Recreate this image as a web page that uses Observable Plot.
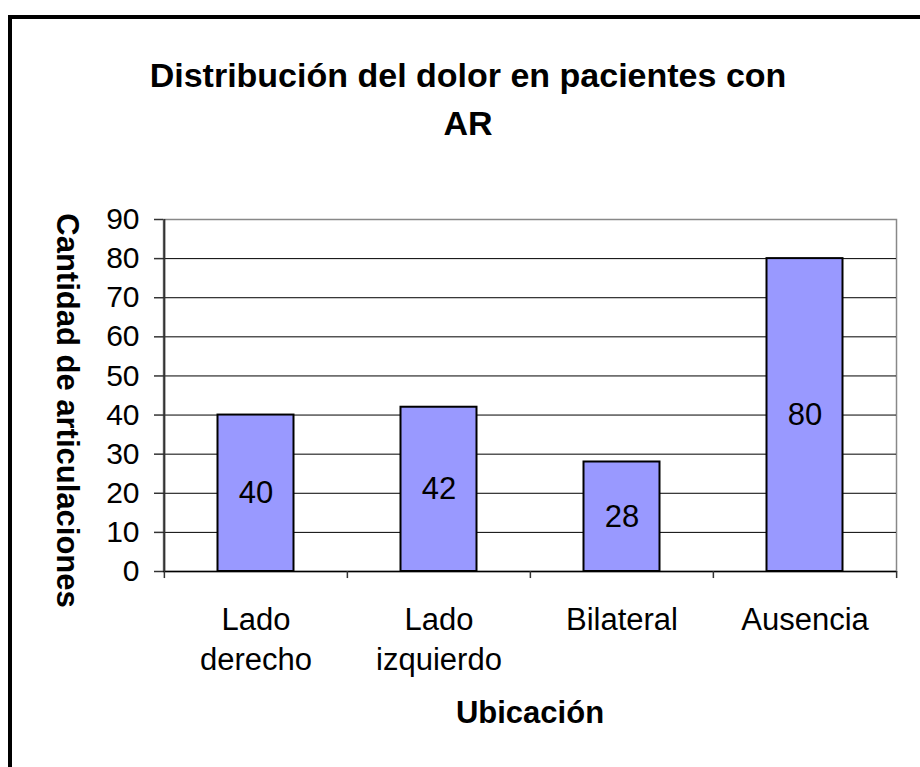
<!DOCTYPE html>
<html>
<head>
<meta charset="utf-8">
<script src="https://cdn.jsdelivr.net/npm/d3@7"></script>
<script src="https://cdn.jsdelivr.net/npm/@observablehq/plot@0.6"></script>
<style>
  html, body { margin: 0; padding: 0; background: #fff; }
  #wrap { position: relative; width: 920px; height: 767px; overflow: hidden; background: #fff; }
  #border { position: absolute; left: 8px; top: 15px; width: 1000px; height: 900px;
            border-left: 4px solid #000; border-top: 4px solid #000; box-sizing: border-box; }
  #chart { position: absolute; left: 0; top: 0; }
</style>
</head>
<body>
<div id="wrap"><div id="border"></div><div id="chart"></div></div>
<script>
const categories = ["Lado derecho", "Lado izquierdo", "Bilateral", "Ausencia"];
const categoryLabels = ["Lado\nderecho", "Lado\nizquierdo", "Bilateral", "Ausencia"];
const values = [40, 42, 28, 80];
const yTicks = [0, 10, 20, 30, 40, 50, 60, 70, 80, 90];
const titleText = "Distribución del dolor en pacientes con\nAR";
const yLabel = "Cantidad de articulaciones";
const xLabel = "Ubicación";

const data = categories.map((c, i) => ({cat: c, label: categoryLabels[i], value: values[i]}));

const W = 920, H = 767, mL = 163, mR = 24, mT = 219, mB = 196;
const bw = (W - mL - mR) / categories.length;
const font = "'Liberation Sans', Arial, sans-serif";

const plot = Plot.plot({
  width: W, height: H,
  marginLeft: mL, marginRight: mR, marginTop: mT, marginBottom: mB,
  style: {fontFamily: font, fontSize: "30px", color: "#000", background: "transparent", overflow: "visible"},
  x: {type: "band", domain: categories, padding: 0, axis: null},
  y: {domain: [0, 90], axis: null},
  marks: [
    Plot.frame({stroke: "#888", strokeWidth: 1.5}),
    Plot.ruleY(yTicks.filter(t => t > 0 && t < 90), {stroke: "#000", strokeWidth: 1}),
    Plot.barY(data, {x: "cat", y: "value", fill: "#9999FF", stroke: "#000", strokeWidth: 2,
      insetLeft: 53.5, insetRight: 53.5}),
    Plot.text(data, {x: "cat", y: d => d.value / 2, text: d => String(d.value), fontSize: 31, fill: "#000"}),
    Plot.ruleY([0], {stroke: "#000", strokeWidth: 1.5}),
    Plot.ruleX([categories[0]], {dx: -bw / 2, y1: 0, y2: 90, stroke: "#333", strokeWidth: 2}),
    // x boundary ticks
    Plot.ruleX(categories, {dx: -bw / 2, y1: 0, y2: -1.8, stroke: "#333", strokeWidth: 1.5, clip: false}),
    Plot.ruleX([categories[categories.length - 1]], {dx: bw / 2, y1: 0, y2: -1.8, stroke: "#333", strokeWidth: 1.5}),
    Plot.axisY({ticks: yTicks, tickSize: 9, tickPadding: 15, fontSize: 30, label: null, stroke: "#333", strokeWidth: 1.5}),
    Plot.text(data, {x: "cat", text: "label", frameAnchor: "bottom", lineAnchor: "top", dy: 30,
      lineHeight: 1.29, fontSize: 31, fill: "#000"}),
    Plot.text([xLabel], {frameAnchor: "bottom", lineAnchor: "top", dy: 129, fontSize: 31, fontWeight: "bold", fill: "#000"}),
    Plot.text([yLabel], {frameAnchor: "left", textAnchor: "middle", rotate: 90, dx: -97, dy: 15, fontSize: 31, fontWeight: "bold", fill: "#000"}),
    Plot.text([titleText], {frameAnchor: "top", textAnchor: "middle", lineAnchor: "top", dx: -62, dy: -166, lineHeight: 1.4,
      fontSize: 34, fontWeight: "bold", fill: "#000"})
  ]
});
document.getElementById("chart").appendChild(plot);
</script>
</body>
</html>
